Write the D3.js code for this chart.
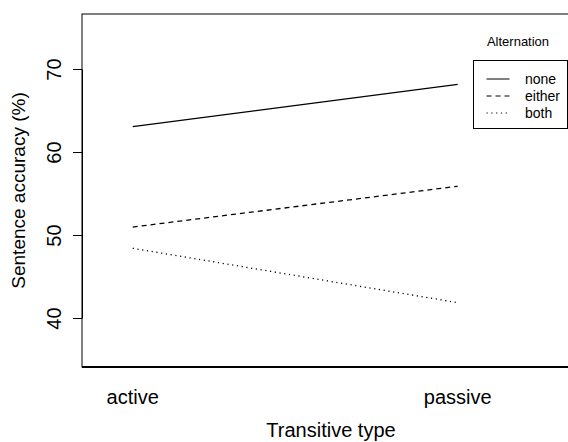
<!DOCTYPE html>
<html>
<head>
<meta charset="utf-8">
<script src="https://cdn.jsdelivr.net/npm/d3@7"></script>
<style>
  body { margin: 0; background: #fff; }
  text { font-family: "Liberation Sans", Arial, sans-serif; fill: #000; }
</style>
</head>
<body>
<div id="chart"></div>
<script>
// data
const types = ["active", "passive"];
const groups = ["none", "either", "both"];
const none = [63.05, 68.15];
const either = [50.96, 55.87];
const both = [48.4, 41.85];
const yTicks = [40, 50, 60, 70];

const W = 568, H = 442;
const box = { left: 82, top: 14, right: 580, bottom: 367 };
const dashes = { none: null, either: "5,4", both: "1.2,3.6" };
const series = [
  { name: "none", values: none },
  { name: "either", values: either },
  { name: "both", values: both }
];

const svg = d3.select("#chart")
  .append("svg")
  .attr("width", W)
  .attr("height", H);

const x = d3.scalePoint().domain(types).range([132.7, 457.7]);
const y = d3.scaleLinear().domain([40, 70]).range([318, 69]);

// plot box
svg.append("rect")
  .attr("x", box.left)
  .attr("y", box.top)
  .attr("width", box.right - box.left)
  .attr("height", box.bottom - box.top)
  .attr("fill", "none")
  .attr("stroke", "#000")
  .attr("stroke-width", 1);

svg.append("line")
  .attr("x1", box.left).attr("x2", box.right)
  .attr("y1", box.bottom).attr("y2", box.bottom)
  .attr("stroke", "#000")
  .attr("stroke-width", 2);

// y axis
const yAxis = svg.append("g")
  .attr("transform", `translate(${box.left},0)`)
  .call(d3.axisLeft(y).tickValues(yTicks).tickSize(9).tickSizeOuter(0));
yAxis.select(".domain").attr("stroke", "#000");
yAxis.selectAll(".tick line").attr("stroke", "#000");
yAxis.selectAll(".tick text")
  .attr("x", null).attr("dy", null)
  .attr("transform", "translate(-21,0) rotate(-90)")
  .attr("text-anchor", "middle")
  .style("font-size", "20px")
  .style("font-family", "Liberation Sans, Arial, sans-serif");

// x category labels (no ticks)
svg.append("g")
  .selectAll("text")
  .data(types)
  .join("text")
  .attr("x", (d) => x(d))
  .attr("y", 404)
  .attr("text-anchor", "middle")
  .style("font-size", "20px")
  .text((d) => d);

// axis titles
svg.append("text")
  .attr("x", (box.left + box.right) / 2)
  .attr("y", 437)
  .attr("text-anchor", "middle")
  .style("font-size", "20px")
  .text("Transitive type");

svg.append("text")
  .attr("transform", `translate(25,${(box.top + box.bottom) / 2}) rotate(-90)`)
  .attr("text-anchor", "middle")
  .style("font-size", "19px")
  .text("Sentence accuracy (%)");

// lines
const line = d3.line()
  .x((d, i) => x(types[i]))
  .y((d) => y(d));

svg.append("g")
  .selectAll("path")
  .data(series)
  .join("path")
  .attr("fill", "none")
  .attr("stroke", "#000")
  .attr("stroke-width", 1.3)
  .attr("stroke-dasharray", (d) => dashes[d.name])
  .attr("d", (d) => line(d.values));

// legend
const lg = svg.append("g");
lg.append("text")
  .attr("x", 518)
  .attr("y", 46)
  .attr("text-anchor", "middle")
  .style("font-size", "13px")
  .text("Alternation");

lg.append("rect")
  .attr("x", 473.5)
  .attr("y", 60.5)
  .attr("width", 94)
  .attr("height", 68)
  .attr("fill", "none")
  .attr("stroke", "#000")
  .attr("stroke-width", 1);

const rows = lg.selectAll("g.row")
  .data(groups)
  .join("g")
  .attr("class", "row")
  .attr("transform", (d, i) => `translate(0,${79 + i * 17})`);

rows.append("line")
  .attr("x1", 486.5).attr("x2", 509.5)
  .attr("stroke", "#000")
  .attr("stroke-width", 1)
  .attr("stroke-dasharray", (d) => dashes[d]);

rows.append("text")
  .attr("x", 525)
  .attr("y", 5)
  .style("font-size", "14px")
  .text((d) => d);
</script>
</body>
</html>
